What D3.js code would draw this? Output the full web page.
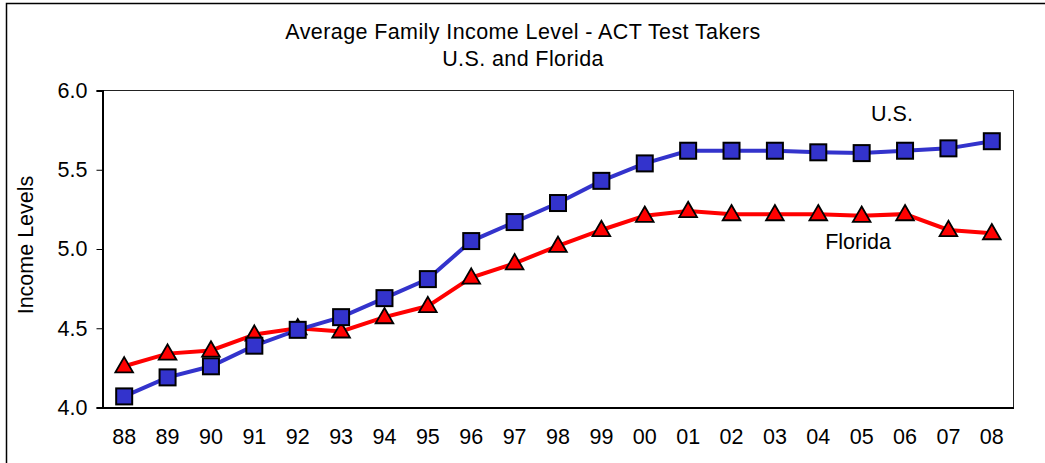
<!DOCTYPE html>
<html>
<head>
<meta charset="utf-8">
<script src="https://cdn.jsdelivr.net/npm/d3@7"></script>
<style>
  body { margin: 0; background: #fff; }
  text { font-family: "Liberation Sans", Arial, sans-serif; fill: #000; }
</style>
</head>
<body>
<div id="chart"></div>
<script>
const years = ["88","89","90","91","92","93","94","95","96","97","98","99","00","01","02","03","04","05","06","07","08"];
const usValues = [4.07,4.19,4.26,4.39,4.49,4.57,4.69,4.81,5.05,5.17,5.29,5.43,5.54,5.62,5.62,5.62,5.61,5.605,5.62,5.635,5.68];
const flValues = [4.26,4.34,4.36,4.46,4.50,4.48,4.57,4.64,4.82,4.91,5.02,5.12,5.21,5.24,5.22,5.22,5.22,5.21,5.22,5.12,5.10];
const yTicks = [4.0, 4.5, 5.0, 5.5, 6.0];

const width = 1045, height = 463;
const margin = { top: 90.5, left: 102.5, right: 31.5, bottom: 55.5 };
const w = width - margin.left - margin.right;
const h = height - margin.top - margin.bottom;
const fs = "21.5px";

const svg = d3.select("#chart").append("svg")
    .attr("width", width)
    .attr("height", height);

// outer frame
svg.append("rect")
    .attr("x", 6.5).attr("y", 3.5)
    .attr("width", width + 20).attr("height", height + 20)
    .attr("fill", "#fff")
    .attr("stroke", "#000")
    .attr("stroke-width", 1.5);

svg.append("text")
    .attr("x", 523).attr("y", 39)
    .attr("text-anchor", "middle")
    .style("font-size", fs)
    .style("letter-spacing", "0.4px")
    .text("Average Family Income Level - ACT Test Takers");
svg.append("text")
    .attr("x", 523).attr("y", 66)
    .attr("text-anchor", "middle")
    .style("font-size", fs)
    .style("letter-spacing", "0.4px")
    .text("U.S. and Florida");

const x = d3.scaleBand().domain(years).range([0, w]);
const y = d3.scaleLinear().domain([4, 6]).range([h, 0]);

const g = svg.append("g").attr("transform", `translate(${margin.left},${margin.top})`);

// plot border (top + right)
g.append("rect")
    .attr("width", w).attr("height", h)
    .attr("fill", "none")
    .attr("stroke", "#222")
    .attr("stroke-width", 1);

const yAxis = d3.axisLeft(y).tickValues(yTicks).tickSize(6).tickPadding(9).tickFormat(d3.format(".1f"));
const yG = g.append("g").call(yAxis);
yG.select(".domain").attr("stroke-width", 2);
yG.selectAll(".tick line").attr("stroke-width", 1);
yG.selectAll("text").style("font-size", fs).style("font-family", "Liberation Sans, Arial, sans-serif");

const xAxis = d3.axisBottom(x).tickSize(0).tickPadding(21);
const xG = g.append("g").attr("transform", `translate(0,${h})`).call(xAxis);
xG.select(".domain").attr("stroke-width", 2);
xG.selectAll("text").style("font-size", fs).style("font-family", "Liberation Sans, Arial, sans-serif");

svg.append("text")
    .attr("transform", "translate(33,245) rotate(-90)")
    .attr("text-anchor", "middle")
    .style("font-size", fs)
    .text("Income Levels");

const cx = d => x(d) + x.bandwidth() / 2;
const line = d3.line().x((d, i) => cx(years[i])).y(d => y(d));

g.append("path").datum(flValues)
    .attr("d", line)
    .attr("fill", "none")
    .attr("stroke", "#ff0000")
    .attr("stroke-width", 4);

g.append("path").datum(usValues)
    .attr("d", line)
    .attr("fill", "none")
    .attr("stroke", "#3333cc")
    .attr("stroke-width", 4);

const tri = d3.symbol().type(d3.symbolTriangle).size(135);
g.selectAll("path.fl").data(flValues).join("path")
    .attr("class", "fl")
    .attr("d", tri)
    .attr("transform", (d, i) => `translate(${cx(years[i])},${y(d) + 1})`)
    .attr("fill", "#ff0000")
    .attr("stroke", "#000")
    .attr("stroke-width", 1.8);

const sq = 16;
g.selectAll("rect.us").data(usValues).join("rect")
    .attr("class", "us")
    .attr("x", (d, i) => cx(years[i]) - sq / 2)
    .attr("y", d => y(d) - sq / 2)
    .attr("width", sq).attr("height", sq)
    .attr("fill", "#3333cc")
    .attr("stroke", "#000")
    .attr("stroke-width", 2);

svg.append("text")
    .attr("x", 892).attr("y", 121)
    .attr("text-anchor", "middle")
    .style("font-size", fs)
    .text("U.S.");
svg.append("text")
    .attr("x", 858).attr("y", 249)
    .attr("text-anchor", "middle")
    .style("font-size", fs)
    .text("Florida");
</script>
</body>
</html>
